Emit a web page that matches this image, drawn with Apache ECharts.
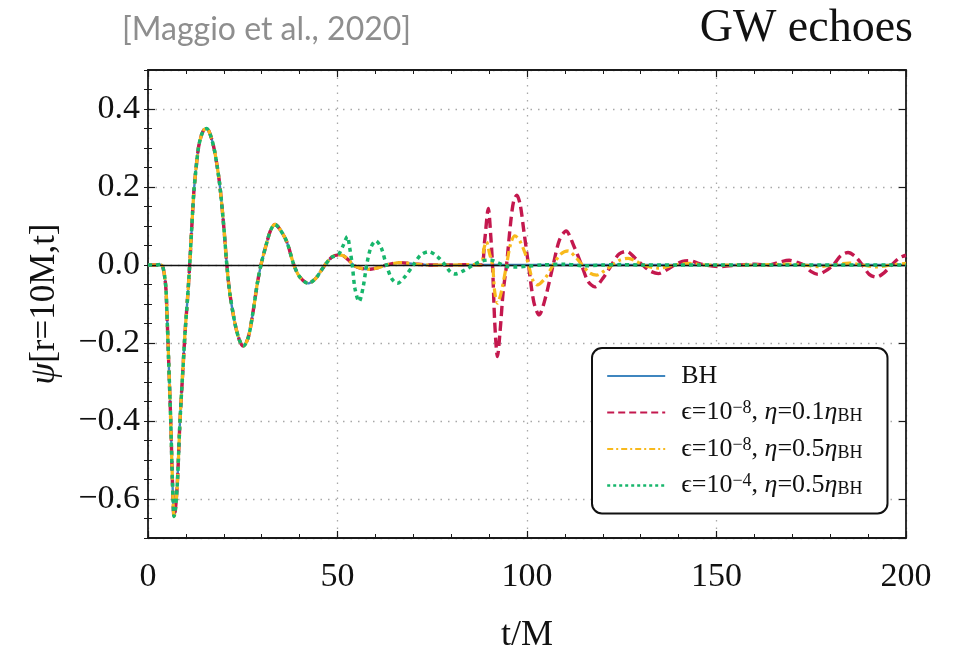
<!DOCTYPE html>
<html>
<head>
<meta charset="utf-8">
<script src="https://cdn.jsdelivr.net/npm/echarts@6/dist/echarts.min.js"></script>
<style>
  html, body { margin: 0; padding: 0; background: #ffffff; }
  #chart { width: 957px; height: 662px; }
</style>
</head>
<body>
<div id="chart"></div>
<script>
// Main ringdown shared by every configuration (t/M, psi)
const tRingdown = [0, 2, 3.3, 3.9, 4.4, 4.75, 5.1, 5.5, 6.0, 6.33, 6.6, 6.86, 7.2, 7.74, 8.44, 9.15, 9.76, 10.4, 11.0, 11.8, 12.2, 13.3, 14.1, 14.8, 15.5, 16.3, 17.4, 18.3, 19.0, 20.0, 20.8, 21.6, 22.95, 24.1, 25.15, 26.5, 27.8, 28.85, 29.8, 31.3, 32.4, 33.5, 34.7, 36.6, 38.5, 40.0, 42.3, 44.2, 45.5, 46.7, 48.5, 50.2];
const psiRingdown = [0, 0, 0.001, -0.005, -0.03, -0.064, -0.15, -0.26, -0.40, -0.517, -0.60, -0.645, -0.63, -0.56, -0.40, -0.278, -0.175, -0.09, 0.0, 0.14, 0.2, 0.30, 0.333, 0.347, 0.35, 0.338, 0.30, 0.25, 0.2, 0.098, 0.0, -0.073, -0.15, -0.192, -0.208, -0.184, -0.115, -0.047, 0.0, 0.056, 0.09, 0.104, 0.093, 0.06, 0.0, -0.03, -0.047, -0.035, -0.017, 0.0, 0.02, 0.026];

// Late black-hole tail
const tLate = [51.5, 53, 54.2, 56, 58.6, 61, 63, 66.5, 70, 74];
const psiLate = [0.024, 0.012, 0.0, -0.008, -0.011, -0.006, 0.0, 0.006, 0.003, 0.0];
const tBHEnd = [100, 150, 200];
const psiBHEnd = [0, 0, 0];

// Echo for eps=1e-8, eta=0.1 eta_BH
const tEchoA = [80, 85, 87.9, 88.8, 89.8, 90.4, 90.9, 91.5, 92.2, 92.9, 93.7, 94.6, 95.7, 96.5, 97.3, 98.2, 99.2, 100.4, 101.8, 103.2, 104.7, 106.9, 108.6, 110.3, 112.3, 114.4, 116.1, 117.9, 120.1, 122.3, 124.3, 126.3, 128.5, 130.5, 132.6, 134.7, 136.9, 139, 141, 143.1, 145, 147, 151, 156, 160, 164, 166.5, 169.2, 171.2, 173, 175, 176.8, 178.8, 180.8, 182.8, 184.7, 186.6, 188.5, 190.3, 192.2, 194.2, 196.2, 198.2, 200];
const psiEchoA = [0.0, 0.001, 0.0, 0.06, 0.145, 0.08, 0.0, -0.15, -0.235, -0.17, -0.07, 0.0, 0.11, 0.165, 0.179, 0.155, 0.085, 0.0, -0.095, -0.128, -0.09, 0.0, 0.065, 0.087, 0.05, 0.0, -0.042, -0.056, -0.033, 0.0, 0.028, 0.035, 0.018, 0.0, -0.016, -0.022, -0.012, 0.0, 0.009, 0.011, 0.005, 0.0, -0.004, 0.0, 0.002, 0.0, 0.007, 0.012, 0.007, 0.0, -0.017, -0.024, -0.015, 0.0, 0.024, 0.032, 0.022, 0.0, -0.024, -0.031, -0.02, 0.0, 0.018, 0.025];

// Echo for eps=1e-8, eta=0.5 eta_BH
const tEchoB = [80, 85, 87.9, 88.6, 89.3, 90.1, 90.9, 91.5, 92.2, 93.2, 94.6, 95.7, 96.8, 98.2, 99.5, 100.4, 101.5, 102.7, 104.7, 106.9, 108.8, 110.9, 112.8, 114.6, 116.5, 118.4, 120.4, 122.5, 124.6, 126.7, 128.7, 130.7, 134.7, 139, 143, 147, 160, 169, 173, 177, 181, 185, 188.5, 192, 196, 200];
const psiEchoB = [0.0, 0.001, 0.0, 0.04, 0.06, 0.03, 0.0, -0.07, -0.098, -0.07, 0.0, 0.055, 0.075, 0.06, 0.03, 0.0, -0.038, -0.051, -0.035, 0.0, 0.027, 0.036, 0.02, 0.0, -0.02, -0.026, -0.015, 0.0, 0.013, 0.017, 0.01, 0.0, -0.008, 0.0, 0.004, 0.0, 0.0, 0.002, 0.0, -0.004, 0.0, 0.005, 0.0, -0.005, 0.0, 0.004];

// Echo for eps=1e-4, eta=0.5 eta_BH
const tEchoC = [51.5, 52.6, 53.2, 53.9, 54.6, 55.7, 56.7, 57.7, 58.8, 60.1, 61.5, 62.9, 64.3, 65.8, 67.8, 70.0, 72.0, 74.1, 76.3, 78.4, 79.8, 81.0, 83.2, 85.8, 88, 90.2, 92.5, 94.5, 97, 100, 104, 110, 115, 120, 125, 130, 200];
const psiEchoC = [0.05, 0.073, 0.045, 0.0, -0.06, -0.094, -0.06, 0.0, 0.045, 0.062, 0.045, 0.0, -0.035, -0.047, -0.03, 0.0, 0.026, 0.034, 0.022, 0.0, -0.018, -0.023, -0.015, 0.0, 0.01, 0.013, 0.005, -0.003, -0.005, -0.003, 0.0, 0.002, -0.002, 0.0, 0.001, 0.0, 0.0];

// Axis ticks
const xTicks = [0, 50, 100, 150, 200];
const yTicks = [-0.6, -0.4, -0.2, 0.0, 0.2, 0.4];

function pairs(ts, vs) { return ts.map((t, i) => [t, vs[i]]); }

const ringdown = pairs(tRingdown, psiRingdown);
const late = pairs(tLate, psiLate);
const dataBH = ringdown.concat(late, pairs(tBHEnd, psiBHEnd));
const dataA = ringdown.concat(late, pairs(tEchoA, psiEchoA));
const dataB = ringdown.concat(late, pairs(tEchoB, psiEchoB));
const dataC = ringdown.concat(pairs(tEchoC, psiEchoC));

const NAME_BH = 'BH';
const NAME_A = 'eps=1e-8, eta=0.1';
const NAME_B = 'eps=1e-8, eta=0.5';
const NAME_C = 'eps=1e-4, eta=0.5';

const legendRich = {};
legendRich[NAME_BH] = '{n|BH}';
legendRich[NAME_A] = '{n|ϵ=10}{sup|−8}{n|, }{i|η}{n|=0.1}{i|η}{sub|BH}';
legendRich[NAME_B] = '{n|ϵ=10}{sup|−8}{n|, }{i|η}{n|=0.5}{i|η}{sub|BH}';
legendRich[NAME_C] = '{n|ϵ=10}{sup|−4}{n|, }{i|η}{n|=0.5}{i|η}{sub|BH}';

const SERIF = 'Liberation Serif';
const FRAME = '#1a1a1a';

const fmtY = v => {
  const r = Math.round(v * 10) / 10;
  if (!yTicks.some(t => Math.abs(t - r) < 1e-6) || Math.abs(r - v) > 1e-6) return '';
  return (r < 0 ? '−' : '') + Math.abs(r).toFixed(1);
};

const colors = { bh: '#3f86bf', a: '#c4184e', b: '#f8b91c', c: '#17b66c' };
const hiddenMarker = { color: 'rgba(0,0,0,0)', borderWidth: 0, opacity: 0 };

const chart = echarts.init(document.getElementById('chart'), null, { renderer: 'canvas' });

const option = {
  backgroundColor: '#ffffff',
  animation: false,
  color: [colors.bh, colors.a, colors.b, colors.c],
  title: [
    {
      text: '[Maggio et al., 2020]',
      left: 122, top: 14, padding: 0,
      textStyle: { fontFamily: 'Lato', fontSize: 32, fontWeight: 'normal', color: '#8e8e8e' }
    },
    {
      text: 'GW echoes',
      right: 44, top: 6, padding: 0,
      textStyle: { fontFamily: SERIF, fontSize: 46, fontWeight: 'normal', color: '#111' }
    }
  ],
  grid: { left: 148, right: 51, top: 70, bottom: 124, containLabel: false },
  legend: {
    orient: 'vertical',
    left: 592, top: 348,
    padding: [15, 25, 15, 14],
    itemGap: 10.5,
    itemWidth: 58,
    itemHeight: 26,
    backgroundColor: '#ffffff',
    borderColor: '#111',
    borderWidth: 2,
    borderRadius: 10,
    selectedMode: false,
    itemStyle: hiddenMarker,
    data: [
      { name: NAME_BH, itemStyle: hiddenMarker, lineStyle: { width: 2, type: 'solid', color: colors.bh } },
      { name: NAME_A, itemStyle: hiddenMarker, lineStyle: { width: 2.2, type: [7, 4], color: colors.a } },
      { name: NAME_B, itemStyle: hiddenMarker, lineStyle: { width: 2.2, type: [6, 3, 2, 3], color: colors.b } },
      { name: NAME_C, itemStyle: hiddenMarker, lineStyle: { width: 2.4, type: [3, 3], color: colors.c } }
    ],
    formatter: name => legendRich[name],
    textStyle: {
      padding: [0, 0, 0, 11],
      rich: {
        n: { fontFamily: SERIF, fontSize: 26, color: '#111', lineHeight: 26 },
        i: { fontFamily: SERIF, fontSize: 26, fontStyle: 'italic', color: '#111', lineHeight: 26 },
        sup: { fontFamily: SERIF, fontSize: 18, color: '#111', lineHeight: 14, verticalAlign: 'top' },
        sub: { fontFamily: SERIF, fontSize: 18, color: '#111', lineHeight: 14, verticalAlign: 'bottom' }
      }
    }
  },
  xAxis: [
    {
      type: 'value', position: 'bottom', min: 0, max: 200, interval: 50,
      name: 't/M', nameLocation: 'middle', nameGap: 80,
      nameTextStyle: { fontFamily: SERIF, fontSize: 36, color: '#111' },
      axisLine: { show: true, onZero: false, lineStyle: { color: FRAME, width: 1.8 } },
      axisTick: { show: true, inside: true, length: 7, lineStyle: { color: FRAME, width: 1.2 } },
      minorTick: { show: true, splitNumber: 5, length: 4, lineStyle: { color: FRAME, width: 1 } },
      axisLabel: {
        margin: 22, fontFamily: SERIF, fontSize: 34, color: '#111',
        formatter: v => (xTicks.includes(v) ? String(v) : '')
      },
      splitLine: { show: true, lineStyle: { color: '#a8a8a8', width: 1.3, type: [1.5, 6] } }
    },
    {
      type: 'value', position: 'top', min: 0, max: 200, interval: 50,
      axisLine: { show: true, onZero: false, lineStyle: { color: FRAME, width: 1.8 } },
      axisTick: { show: true, inside: true, length: 7, lineStyle: { color: FRAME, width: 1.2 } },
      minorTick: { show: true, splitNumber: 5, length: 4, lineStyle: { color: FRAME, width: 1 } },
      axisLabel: { show: false },
      splitLine: { show: false }
    }
  ],
  yAxis: [
    {
      type: 'value', position: 'left', min: -0.7, max: 0.5, splitNumber: 6,
      name: '{i|ψ}[r=10M,t]', nameLocation: 'middle', nameGap: 86, nameRotate: 90,
      nameTextStyle: {
        fontFamily: SERIF, fontSize: 35, color: '#111',
        rich: {
          i: { fontFamily: SERIF, fontSize: 35, fontStyle: 'italic', color: '#111' }
        }
      },
      axisLine: { show: true, onZero: false, lineStyle: { color: FRAME, width: 1.8 } },
      axisTick: { show: true, inside: true, length: 7, lineStyle: { color: FRAME, width: 1.2 } },
      axisLabel: {
        margin: 8, fontFamily: SERIF, fontSize: 34, color: '#111',
        showMinLabel: false, showMaxLabel: false,
        formatter: fmtY
      },
      splitLine: { show: true, lineStyle: { color: '#a8a8a8', width: 1.3, type: [1.5, 6] } }
    },
    {
      type: 'value', position: 'left', min: -0.7, max: 0.5, interval: 0.05,
      axisLine: { show: false },
      axisTick: { show: true, inside: true, length: 4, lineStyle: { color: FRAME, width: 1 } },
      axisLabel: { show: false },
      splitLine: { show: false }
    },
    {
      type: 'value', position: 'right', min: -0.7, max: 0.5, splitNumber: 6,
      axisLine: { show: true, onZero: false, lineStyle: { color: FRAME, width: 1.8 } },
      axisTick: { show: true, inside: true, length: 7, lineStyle: { color: FRAME, width: 1.2 } },
      axisLabel: { show: false },
      splitLine: { show: false }
    },
    {
      type: 'value', position: 'right', min: -0.7, max: 0.5, interval: 0.05,
      axisLine: { show: false },
      axisTick: { show: true, inside: true, length: 4, lineStyle: { color: FRAME, width: 1 } },
      axisLabel: { show: false },
      splitLine: { show: false }
    }
  ],
  series: [
    {
      name: NAME_BH, type: 'line', data: dataBH, xAxisIndex: 0, yAxisIndex: 0,
      showSymbol: false, symbol: 'none', smooth: 0.3, z: 2,
      itemStyle: { color: colors.bh },
      lineStyle: { color: colors.bh, width: 2.4, type: 'solid' },
      markLine: {
        silent: true, symbol: ['none', 'none'], label: { show: false },
        lineStyle: { color: '#111', width: 1.4, type: 'solid' },
        data: [{ yAxis: 0 }]
      }
    },
    {
      name: NAME_A, type: 'line', data: dataA, xAxisIndex: 0, yAxisIndex: 0,
      showSymbol: false, symbol: 'none', smooth: 0.3, z: 3,
      itemStyle: { color: colors.a },
      lineStyle: { color: colors.a, width: 3.4, type: [10, 5] }
    },
    {
      name: NAME_B, type: 'line', data: dataB, xAxisIndex: 0, yAxisIndex: 0,
      showSymbol: false, symbol: 'none', smooth: 0.3, z: 4,
      itemStyle: { color: colors.b },
      lineStyle: { color: colors.b, width: 3.2, type: [9, 4, 3, 4] }
    },
    {
      name: NAME_C, type: 'line', data: dataC, xAxisIndex: 0, yAxisIndex: 0,
      showSymbol: false, symbol: 'none', smooth: 0.3, z: 5,
      itemStyle: { color: colors.c },
      lineStyle: { color: colors.c, width: 3.5, type: [4, 4] }
    }
  ]
};

chart.setOption(option);
</script>
</body>
</html>
